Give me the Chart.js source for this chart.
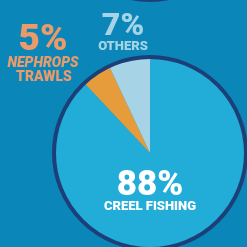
<!DOCTYPE html>
<html>
<head>
<meta charset="utf-8">
<script src="https://cdn.jsdelivr.net/npm/chart.js@4"></script>
<style>
  html, body { margin: 0; padding: 0; overflow: hidden; background: #0a87b8; }
  #wrap { position: absolute; left: 0; top: 0; width: 300px; height: 300px; }
</style>
</head>
<body>
<div id="wrap"><canvas id="fishChart"></canvas></div>
<script>
// данные
const categories = ["CREEL FISHING", "NEPHROPS TRAWLS", "OTHERS"];
const shares = [88, 5, 7];
const sliceColors = ["#22acd8", "#e69c3a", "#a6d4e6"];

const navy = "#1c3f78";

// кольцо вокруг пирога + подписи
const decorPlugin = {
  id: "decor",
  beforeDraw(chart) {
    const c = chart.ctx;
    c.save();
    c.fillStyle = navy;
    c.beginPath();
    c.arc(150, -98, 100, 0, Math.PI * 2);
    c.fill();
    c.restore();
  },
  afterDatasetsDraw(chart) {
    const c = chart.ctx;
    const arc = chart.getDatasetMeta(0).data[0];
    c.save();
    c.strokeStyle = navy;
    c.lineWidth = 4;
    c.beginPath();
    c.arc(arc.x, arc.y, arc.outerRadius - 1, 0, Math.PI * 2);
    c.stroke();

    c.textAlign = "center";
    c.textBaseline = "alphabetic";

    c.fillStyle = "#eb9a6a";
    c.font = "900 37px Roboto";
    c.fillText(shares[1] + "%", 43, 50);
    c.font = "italic 900 14px Roboto";
    c.fillText("NEPHROPS", 43, 67);
    c.font = "900 14px Roboto";
    c.fillText("TRAWLS", 44, 81);

    c.fillStyle = "#a6d4e6";
    c.font = "900 32px Roboto";
    c.fillText(shares[2] + "%", 123, 35);
    c.font = "900 13px Roboto";
    c.fillText(categories[2], 123, 50);

    c.fillStyle = "#ffffff";
    c.font = "900 35px Roboto";
    c.fillText(shares[0] + "%", arc.x, 195);
    c.font = "900 13px Roboto";
    c.fillText(categories[0], arc.x, 210);
    c.restore();
  }
};

const ctx = document.getElementById("fishChart").getContext("2d");
const fishChart = new Chart(ctx, {
  type: "pie",
  data: {
    labels: categories,
    datasets: [{
      data: shares,
      backgroundColor: sliceColors,
      borderWidth: 0
    }]
  },
  options: {
    responsive: true,
    maintainAspectRatio: false,
    animation: false,
    layout: { padding: { left: 53, right: 53, top: 56, bottom: 50 } },
    plugins: {
      legend: { display: false },
      tooltip: { enabled: false }
    }
  },
  plugins: [decorPlugin]
});
</script>
</body>
</html>
